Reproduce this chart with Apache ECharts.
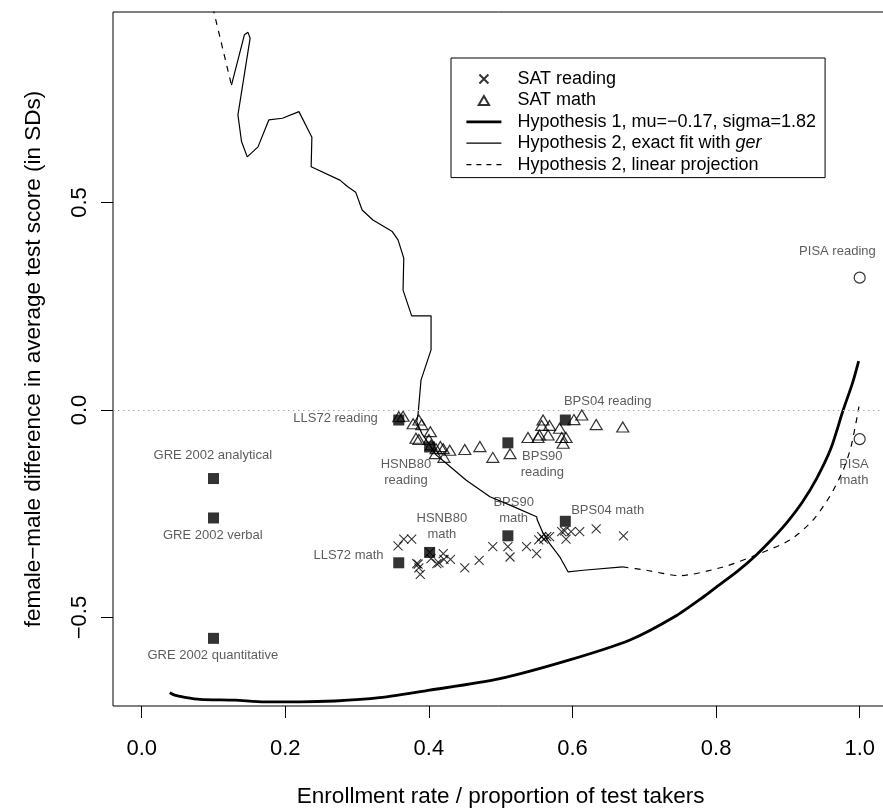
<!DOCTYPE html>
<html><head><meta charset="utf-8">
<script src="https://cdn.jsdelivr.net/npm/echarts@6/dist/echarts.min.js"></script>
<style>html,body{margin:0;padding:0;background:#fff}#c{width:883px;height:809px}</style>
</head><body><div id="c"></div>
<script>
// ---- data ----
const satReading = [
  [0.357,-0.327],[0.365,-0.311],[0.376,-0.311],[0.385,-0.371],[0.386,-0.380],[0.388,-0.396],
  [0.383,-0.370],[0.401,-0.343],[0.403,-0.358],[0.411,-0.370],[0.414,-0.368],[0.420,-0.346],
  [0.421,-0.360],[0.430,-0.360],[0.450,-0.380],[0.470,-0.362],[0.489,-0.329],[0.510,-0.329],
  [0.513,-0.354],[0.536,-0.329],[0.550,-0.346],[0.553,-0.313],[0.557,-0.305],[0.560,-0.311],
  [0.564,-0.305],[0.568,-0.305],[0.585,-0.293],[0.589,-0.291],[0.591,-0.311],[0.598,-0.293],
  [0.610,-0.293],[0.633,-0.286],[0.671,-0.303]
];
const satMath = [
  [0.358,-0.016],[0.364,-0.015],[0.378,-0.033],[0.386,-0.024],[0.390,-0.035],[0.402,-0.052],
  [0.382,-0.068],[0.386,-0.071],[0.400,-0.071],[0.403,-0.084],[0.410,-0.093],[0.416,-0.088],
  [0.420,-0.093],[0.429,-0.097],[0.409,-0.105],[0.421,-0.114],[0.450,-0.095],[0.471,-0.088],
  [0.489,-0.114],[0.513,-0.105],[0.538,-0.066],[0.552,-0.066],[0.554,-0.060],[0.557,-0.037],
  [0.559,-0.024],[0.568,-0.037],[0.566,-0.060],[0.582,-0.044],[0.585,-0.066],[0.591,-0.066],
  [0.587,-0.080],[0.602,-0.023],[0.613,-0.012],[0.633,-0.035],[0.670,-0.041]
];
const studyPoints = [
  [0.10,-0.165],[0.10,-0.26],[0.10,-0.55],
  [0.358,-0.024],[0.401,-0.089],[0.510,-0.079],[0.590,-0.024],
  [0.358,-0.368],[0.401,-0.343],[0.510,-0.303],[0.590,-0.268]
];
const pisaPoints = [[1.0,0.319],[1.0,-0.070]];
const hyp1 = [
  [0.039,-0.681],[0.046,-0.687],[0.060,-0.692],[0.081,-0.697],[0.130,-0.699],[0.171,-0.703],
  [0.220,-0.703],[0.269,-0.701],[0.331,-0.693],[0.401,-0.675],[0.499,-0.647],[0.596,-0.602],
  [0.680,-0.554],[0.742,-0.498],[0.784,-0.448],[0.800,-0.427],[0.830,-0.388],[0.856,-0.349],
  [0.880,-0.307],[0.900,-0.268],[0.920,-0.222],[0.940,-0.165],[0.960,-0.092],[0.977,0.000],
  [0.990,0.065],[0.9986,0.118]
];
const hyp2Exact = [
  [0.125,0.783],[0.143,0.904],[0.148,0.910],[0.151,0.896],[0.134,0.711],[0.139,0.647],
  [0.147,0.610],[0.162,0.634],[0.177,0.699],[0.196,0.703],[0.219,0.719],[0.237,0.657],
  [0.236,0.586],[0.276,0.554],[0.287,0.538],[0.298,0.525],[0.307,0.482],[0.322,0.458],
  [0.349,0.430],[0.357,0.410],[0.365,0.366],[0.364,0.289],[0.376,0.227],[0.403,0.227],
  [0.403,0.145],[0.389,0.072],[0.385,-0.008],[0.383,-0.028],[0.390,-0.056],[0.401,-0.084],
  [0.410,-0.108],[0.424,-0.128],[0.452,-0.169],[0.485,-0.209],[0.513,-0.229],[0.550,-0.257],
  [0.551,-0.265],[0.559,-0.297],[0.568,-0.321],[0.582,-0.353],[0.594,-0.390],[0.615,-0.386],
  [0.670,-0.378]
];
const hyp2ProjTop = [[0.099,0.970],[0.125,0.783]];
const hyp2ProjBottom = [
  [0.670,-0.378],[0.703,-0.386],[0.749,-0.399],[0.810,-0.378],[0.856,-0.349],[0.903,-0.313],
  [0.935,-0.265],[0.958,-0.209],[0.977,-0.145],[0.988,-0.088],[0.999,0.008]
];
const labelNames = [
  'PISA reading','PISA\nmath','BPS04 reading','BPS90\nreading','HSNB80\nreading','LLS72 reading',
  'HSNB80\nmath','BPS90\nmath','BPS04 math','LLS72 math',
  'GRE 2002 analytical','GRE 2002 verbal','GRE 2002 quantitative'
];
const labelAnchors = [
  [0.969,0.381],[0.992,-0.151],[0.649,0.020],[0.558,-0.132],[0.368,-0.150],[0.270,-0.020],
  [0.418,-0.280],[0.518,-0.242],[0.649,-0.241],[0.288,-0.351],
  [0.099,-0.110],[0.099,-0.303],[0.099,-0.590]
];
const xTicks = [0, 0.2, 0.4, 0.6, 0.8, 1.0];
const yTicks = [-0.5, 0, 0.5];
const legendNames = ['SAT reading','SAT math','Hypothesis 1, mu=\u22120.17, sigma=1.82',
  'Hypothesis 2, exact fit with ger','Hypothesis 2, linear projection'];

// ---- chart ----
const FONT = 'Liberation Sans, Arial, Helvetica, sans-serif';
const fmt = v => v.toFixed(1).replace('-', '\u2212');
const chart = echarts.init(document.getElementById('c'), null, {renderer: 'canvas'});
const crossPath = 'path://M0,0L10,10M10,0L0,10';
const triPath = 'path://M5,0L10,8.66L0,8.66Z';
const noFill = {color: 'rgba(0,0,0,0)', borderWidth: 0};

chart.setOption({
  animation: false,
  backgroundColor: '#fff',
  textStyle: {fontFamily: FONT},
  grid: {left: 113, top: 12, width: 775.4, height: 694, show: true, outerBoundsMode: 'none',
         containLabel: false,
         borderColor: '#000', borderWidth: 1, backgroundColor: 'transparent'},
  xAxis: {
    type: 'value', min: -0.04, max: 1.04,
    name: 'Enrollment rate / proportion of test takers',
    nameLocation: 'middle', nameGap: 79,
    nameTextStyle: {fontSize: 22.5, color: '#000', fontFamily: FONT},
    axisLine: {show: false, onZero: false},
    splitLine: {show: false},
    axisTick: {show: true, length: 12, inside: false, customValues: xTicks,
               lineStyle: {color: '#000', width: 1}},
    axisLabel: {show: true, customValues: xTicks, margin: 32, fontSize: 22, color: '#000',
                fontFamily: FONT, formatter: fmt}
  },
  yAxis: {
    type: 'value', min: -0.713, max: 0.959,
    name: 'female\u2212male difference in average test score (in SDs)',
    nameLocation: 'middle', nameGap: 68, nameRotate: 90,
    nameTextStyle: {fontSize: 22.5, color: '#000', fontFamily: FONT},
    axisLine: {show: false, onZero: false},
    splitLine: {show: false},
    axisTick: {show: true, length: 12, inside: false, customValues: yTicks,
               lineStyle: {color: '#000', width: 1}},
    axisLabel: {show: true, customValues: yTicks, rotate: 90, margin: 22, fontSize: 22,
                color: '#000', fontFamily: FONT, formatter: fmt}
  },
  legend: {
    left: 451, top: 58, orient: 'vertical',
    data: [
      {name: legendNames[0]},
      {name: legendNames[1]},
      {name: legendNames[2], lineStyle: {width: 2.8, color: '#000'}},
      {name: legendNames[3], lineStyle: {width: 1.2, color: '#000'}},
      {name: legendNames[4], lineStyle: {width: 1.2, color: '#000', type: [5, 5]}}
    ],
    itemWidth: 35, itemHeight: 9, itemGap: 3.4,
    padding: [12, 9, 4, 14],
    borderColor: '#000', borderWidth: 1, borderRadius: 0, backgroundColor: '#fff',
    selectedMode: false,
    textStyle: {fontSize: 18, color: '#000', fontFamily: FONT, lineHeight: 18,
                padding: [0, 0, 0, 11],
                rich: {n: {fontSize: 18, fontFamily: FONT, color: '#000'},
                       i: {fontSize: 18, fontFamily: FONT, color: '#000', fontStyle: 'italic'}}},
    formatter: name => name.endsWith('ger')
      ? '{n|' + name.slice(0, -3) + '}{i|ger}' : '{n|' + name + '}'
  },
  series: [
    {
      name: 'zero', type: 'line', data: [], silent: true,
      markLine: {silent: true, symbol: 'none', label: {show: false},
                 lineStyle: {color: '#aaa', width: 1, type: [1.5, 3.5]},
                 data: [{yAxis: 0}]}
    },
    {
      name: legendNames[4], type: 'line', data: hyp2ProjTop,
      symbol: 'none', clip: true, itemStyle: noFill,
      lineStyle: {color: '#000', width: 1.2, type: [6, 6]}
    },
    {
      name: legendNames[4], type: 'line', data: hyp2ProjBottom,
      symbol: 'none', clip: true, itemStyle: noFill, smooth: 0.25,
      lineStyle: {color: '#000', width: 1.2, type: [6, 6]}
    },
    {
      name: legendNames[3], type: 'line', data: hyp2Exact,
      symbol: 'none', clip: true, itemStyle: noFill,
      lineStyle: {color: '#000', width: 1.2}
    },
    {
      name: legendNames[2], type: 'line', data: hyp1,
      symbol: 'none', clip: true, itemStyle: noFill, smooth: 0.25,
      lineStyle: {color: '#000', width: 2.8}
    },
    {
      name: legendNames[0], type: 'scatter', data: satReading,
      symbol: crossPath, symbolSize: 9, symbolKeepAspect: true,
      itemStyle: {color: 'rgba(0,0,0,0)', borderColor: '#000', borderWidth: 1.1}
    },
    {
      name: legendNames[1], type: 'scatter', data: satMath,
      symbol: triPath, symbolSize: [12, 10], symbolKeepAspect: false,
      itemStyle: {color: 'rgba(0,0,0,0)', borderColor: '#000', borderWidth: 1.2}
    },
    {
      name: 'studies', type: 'scatter', data: studyPoints,
      symbol: 'rect', symbolSize: 11, itemStyle: {color: '#000'}
    },
    {
      name: 'PISA', type: 'scatter', data: pisaPoints,
      symbol: 'circle', symbolSize: 11,
      itemStyle: {color: 'rgba(0,0,0,0)', borderColor: '#000', borderWidth: 1.2}
    },
    {
      name: 'labels', type: 'scatter', silent: true,
      data: labelNames.map((n, i) => ({name: n, value: labelAnchors[i]})),
      symbol: 'circle', symbolSize: 1, itemStyle: {color: 'rgba(0,0,0,0)'},
      label: {show: true, position: 'inside', formatter: p => p.name,
              fontSize: 13, lineHeight: 16, color: '#333', fontFamily: FONT, align: 'center'}
    }
  ]
});
</script>
</body></html>
